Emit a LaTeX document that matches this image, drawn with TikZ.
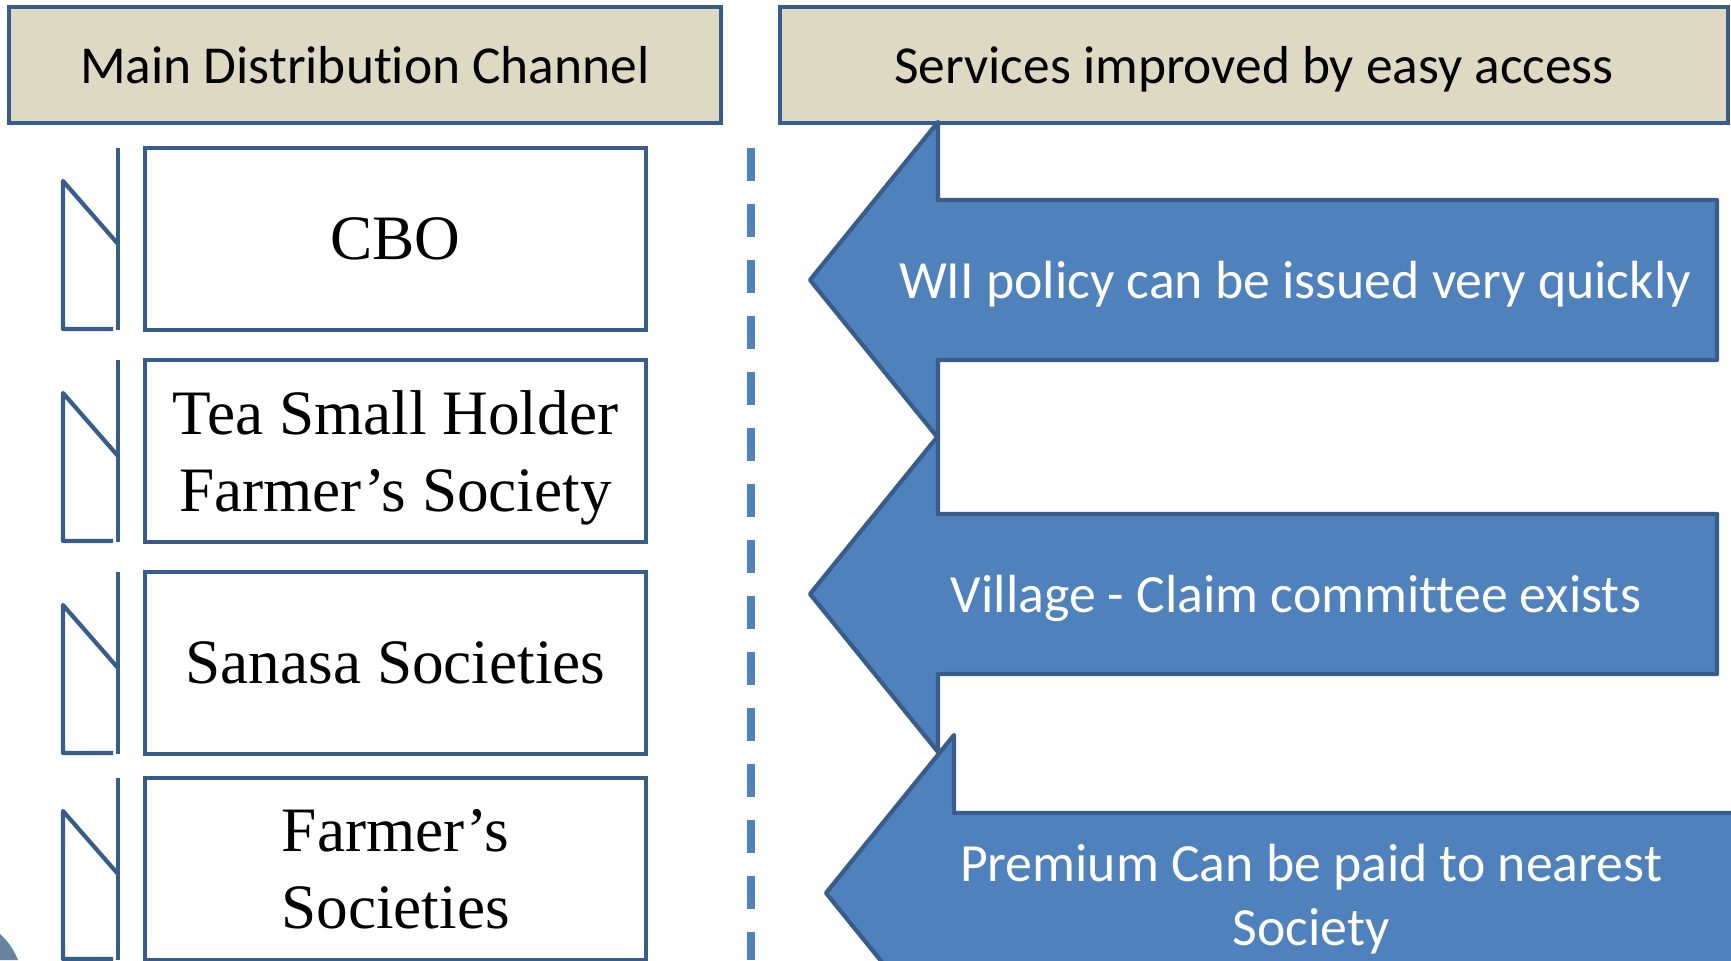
\documentclass[tikz,border=0pt]{standalone}
\usepackage{fontspec}
\setmainfont{Liberation Serif}
\newfontfamily\calibri[Ligatures=NoCommon]{Carlito}
\usepackage{tikz}
\tikzset{>=latex}
\definecolor{edgeblue}{HTML}{385D8A}
\definecolor{fillblue}{HTML}{4F81BD}
\definecolor{headtan}{HTML}{DDD9C3}
\tikzset{
    headbox/.style={draw=edgeblue,fill=headtan,line width=1.3pt,
        minimum height=11.6mm,text depth=0pt,
        font=\calibri\fontsize{15.2}{18}\selectfont},
    chanbox/.style={draw=edgeblue,line width=1.3pt,minimum width=50.1mm,
        minimum height=18.2mm,align=center,text depth=0pt,
        font=\fontsize{18}{21.8}\selectfont},
    flagline/.style={draw=edgeblue,line width=1.2pt,line join=round},
    arrowshape/.style={draw=edgeblue,fill=fillblue,line width=1.2pt,
        line join=round},
    arrowtext/.style={text=white,align=center,
        font=\calibri\fontsize{15.3}{18.2}\selectfont},
    divider/.style={draw=fillblue,line width=2.3pt,
        dash pattern=on 3.3mm off 2.3mm},
}
\newcommand\flag[1]{
    \draw[flagline] (118,#1) -- (118,#1+182);
    \draw[flagline] (118,#1+96) -- (63,#1+33) -- (63,#1+181) -- (113,#1+181);
}
\newcommand\servicearrow[3]{
    \draw[arrowshape] (#1,#2) -- ++(128,-158) -- ++(0,78) -- (#3,#2-80) --
        (#3,#2+80) -- (#1+128,#2+80) -- ++(0,78) -- cycle;
}

\begin{document}
\begin{tikzpicture}[x=0.1mm,y=-0.1mm]
            \useasboundingbox (0,0) rectangle (1731,960);
            \clip (0,0) rectangle (1731,960);
            \fill[fillblue!70!black,opacity=.75] (0,934) .. controls (8,941)
                and (14,950) .. (18,960) -- (0,960) -- cycle;
            \node[headbox,minimum width=71.2mm] (chanhead) at (365,65)
                {Main Distribution Channel};
            \node[headbox,minimum width=94.8mm] (servhead) at (1254,65)
                {Services improved by easy access};
            \flag{148}
            \flag{360}
            \flag{572}
            \flag{778}
            \node[chanbox] (cbo)    at (395.5,239) {CBO};
            \node[chanbox] (tea)    at (395.5,451) {Tea Small Holder\\Farmer’s Society};
            \node[chanbox] (sanasa) at (395.5,663) {Sanasa Societies};
            \node[chanbox] (farmer) at (395.5,869) {Farmer’s\\Societies};
            \coordinate (divtop) at (751,148);
            \coordinate (divbot) at (751,960);
            \draw[divider] (divtop) -- (divbot);
            \servicearrow{810}{280}{1717}
            \node[arrowtext,anchor=base] (wii) at (1295,298)
                {WII policy can be issued very quickly};
            \servicearrow{810}{594}{1717}
            \node[arrowtext,anchor=base] (village) at (1296,612)
                {Village - Claim committee exists};
            \servicearrow{826}{893}{1780}
            \node[arrowtext] (premium) at (1311,899)
                {Premium Can be paid to nearest\\Society};
        \end{tikzpicture}
\end{document}
